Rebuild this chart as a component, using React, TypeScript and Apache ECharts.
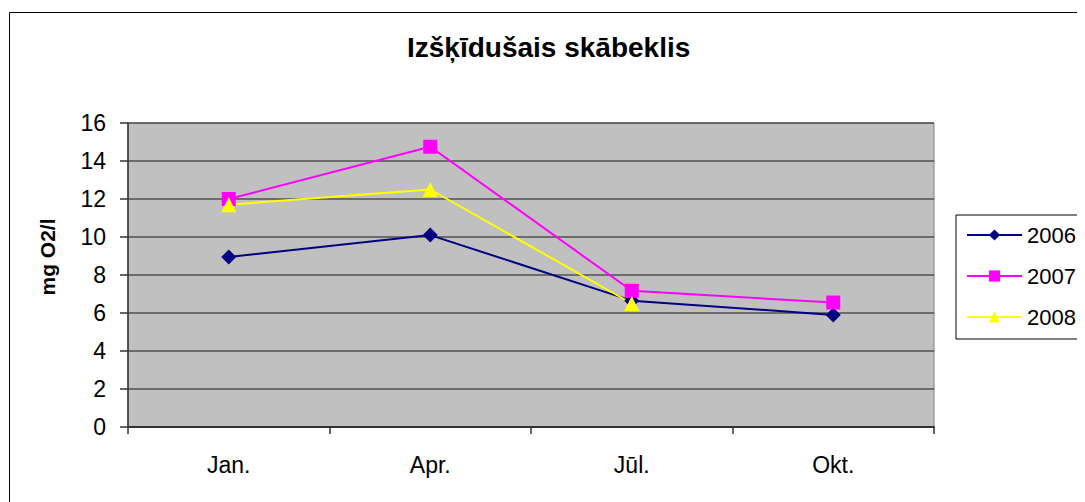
import React, { useEffect, useRef } from "react";
import * as echarts from "echarts";

const categories = ["Jan.", "Apr.", "Jūl.", "Okt."];
const s2006 = [8.95, 10.1, 6.65, 5.9];
const s2007 = [12.0, 14.75, 7.17, 6.55];
const s2008 = [11.7, 12.5, 6.5];
const seriesNames = ["2006", "2007", "2008"];
const titleText = "Izšķīdušais skābeklis";
const yAxisName = "mg O2/l";

const FONT = "'Liberation Sans', Arial, sans-serif";

export default function App() {
  const ref = useRef<HTMLDivElement>(null);
  useEffect(() => {
    document.body.style.overflow = "hidden";
    const chart = echarts.init(ref.current!, null, { renderer: "svg" });
    chart.setOption({
      animation: false,
      backgroundColor: "#ffffff",
      title: {
        text: titleText,
        left: 399,
        top: 25,
        padding: 0,
        textStyle: { fontFamily: FONT, fontSize: 28, fontWeight: "bold", color: "#000" },
      },
      graphic: [
        { type: "line", shape: { x1: 1.5, y1: 4.5, x2: 1200, y2: 4.5 }, style: { stroke: "#000", lineWidth: 1 } },
        { type: "line", shape: { x1: 1.5, y1: 4.5, x2: 1.5, y2: 600 }, style: { stroke: "#000", lineWidth: 1 } },
        {
          type: "text",
          x: 39,
          y: 249,
          rotation: Math.PI / 2,
          style: {
            text: yAxisName,
            align: "center",
            verticalAlign: "middle",
            fontFamily: FONT,
            fontSize: 21,
            fontWeight: "bold",
            fill: "#000",
          },
        },
      ],
      legend: {
        orient: "vertical",
        left: 948,
        top: 207,
        padding: [9, 60, 11, 10],
        itemGap: 19,
        itemWidth: 55,
        itemHeight: 14,
        borderColor: "#000",
        borderWidth: 1,
        data: seriesNames,
        textStyle: { fontFamily: FONT, fontSize: 22, color: "#000", lineHeight: 22 },
      },
      grid: {
        left: 120,
        top: 115,
        width: 806,
        height: 304,
        show: true,
        backgroundColor: "#C0C0C0",
        borderColor: "#808080",
        borderWidth: 1,
      },
      xAxis: {
        type: "category",
        data: categories,
        boundaryGap: true,
        axisLine: { lineStyle: { color: "#333", width: 2 } },
        axisTick: { show: true, length: 7, alignWithLabel: false, lineStyle: { color: "#333", width: 1.5 } },
        axisLabel: { margin: 26, fontFamily: FONT, fontSize: 23, color: "#000" },
        splitLine: { show: false },
      },
      yAxis: {
        type: "value",
        min: 0,
        max: 16,
        interval: 2,
        axisLine: { show: true, lineStyle: { color: "#333", width: 1.5 } },
        axisTick: { show: true, length: 8, lineStyle: { color: "#333", width: 1.5 } },
        axisLabel: { margin: 22, fontFamily: FONT, fontSize: 23, color: "#000" },
        splitLine: { show: true, lineStyle: { color: "#505050", width: 1.5 } },
      },
      series: [
        {
          name: seriesNames[0],
          type: "line",
          data: s2006,
          symbol: "diamond",
          symbolSize: 15,
          lineStyle: { color: "#000080", width: 2 },
          itemStyle: { color: "#000080" },
        },
        {
          name: seriesNames[1],
          type: "line",
          data: s2007,
          symbol: "rect",
          symbolSize: 14,
          lineStyle: { color: "#FF00FF", width: 2 },
          itemStyle: { color: "#FF00FF" },
        },
        {
          name: seriesNames[2],
          type: "line",
          data: s2008,
          symbol: "triangle",
          symbolSize: 15,
          lineStyle: { color: "#FFFF00", width: 2 },
          itemStyle: { color: "#FFFF00" },
        },
      ],
    });
    return () => chart.dispose();
  }, []);
  return <div ref={ref} style={{ width: 1077, height: 494 }} />;
}
